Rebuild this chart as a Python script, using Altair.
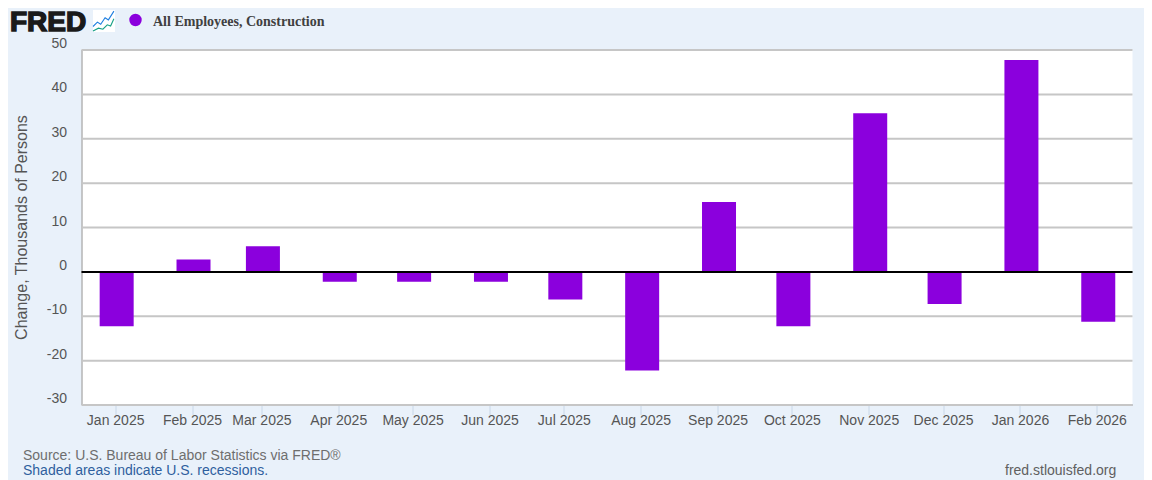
import altair as alt
import pandas as pd

months = ["2025-01-01","2025-02-01","2025-03-01","2025-04-01","2025-05-01","2025-06-01","2025-07-01",
          "2025-08-01","2025-09-01","2025-10-01","2025-11-01","2025-12-01","2026-01-01","2026-02-01"]
values = [-12, 3, 6, -2, -2, -2, -6, -22, 16, -12, 36, -7, 48, -11]
y_ticks = [-30, -20, -10, 0, 10, 20, 30, 40, 50]

BG = "#e9f1fa"
GREY = "#555555"
PURPLE = "#8b00dd"
LABEL_FONT = "Liberation Sans"

df = pd.DataFrame({"date": months, "value": values})
base = alt.Chart(df)

x_axis = alt.Axis(
    title=None, values=months, format="%b %Y", grid=False, domain=True, domainColor="#c4c8d0", domainWidth=2,
    ticks=True, tickColor="#c8d7e8", tickSize=10, tickWidth=1, labelPadding=-1,
    labelFont=LABEL_FONT, labelFontSize=14, labelColor=GREY, labelOverlap=False, labelFlush=False,
)
y_axis = alt.Axis(
    title="Change, Thousands of Persons", values=y_ticks, grid=False,
    domain=True, domainColor="#909090", domainWidth=1, ticks=False, labelPadding=15, labelOffset=-6,
    labelExpr="'' + datum.value",
    labelFont=LABEL_FONT, labelFontSize=14, labelColor=GREY,
    titleFont=LABEL_FONT, titleFontSize=16, titleFontWeight="normal", titleColor=GREY, titlePadding=17,
)
x_enc = alt.X("date:T", axis=x_axis, scale=alt.Scale(type="utc", domain=["2024-12-18T10:00:00Z", "2026-02-15T10:00:00Z"], padding=0))
y_enc = alt.Y("value:Q", axis=y_axis, scale=alt.Scale(domain=[-30, 50], nice=False))

grid = alt.Chart(pd.DataFrame({"v": y_ticks})).mark_rule(color="#c6c6c6", strokeWidth=2, yOffset=0.5).encode(y=alt.Y("v:Q"))
bars = base.mark_bar(size=34, color=PURPLE, xOffset=1.5, yOffset=1.5, clip=False).encode(x=x_enc, y=y_enc, y2=alt.datum(0))
zero = alt.Chart(pd.DataFrame({"v": [0]})).mark_rule(color="#000000", strokeWidth=2, yOffset=0.5).encode(y=alt.Y("v:Q"))


def label(text, px, py, **kw):
    return alt.Chart(pd.DataFrame({"t": [text]})).mark_text(align="left", baseline="middle", **kw).encode(
        x=alt.value(px - 81.5), y=alt.value(py - 49.5), text="t:N"
    )


def symbol(px, py, size, **kw):
    return alt.Chart(pd.DataFrame({"t": [0]})).mark_point(**kw).encode(
        x=alt.value(px - 81.5), y=alt.value(py - 49.5), size=alt.value(size)
    )


logo = label("FRED", 10, 22.5, font="Liberation Sans", fontSize=28, fontWeight="bold", color="#1a1a1a", stroke="#1a1a1a", strokeWidth=1.5)
icon_bg = symbol(104, 21, 484, shape="square", filled=True, color="#ffffff", opacity=1)
icon_a = symbol(104, 21, 484, shape="M-1,0.5L-0.6,0.1L-0.3,0.3L0.1,-0.3L0.4,-0.1L0.9,-0.9", filled=False, color="#1f7fe0", strokeWidth=1.1, opacity=1)
icon_b = symbol(104, 21, 484, shape="M-1,0.9L-0.5,0.65L-0.1,0.75L0.3,0.35L0.6,0.45L0.9,-0.2", filled=False, color="#16a085", strokeWidth=1.1, opacity=1)
dot = symbol(135.5, 20, 154, shape="circle", filled=True, color=PURPLE, opacity=1)
legend_text = label("All Employees, Construction", 153, 22, font="Liberation Serif", fontSize=14, fontWeight="bold", color="#404040")
source = label("Source: U.S. Bureau of Labor Statistics via FRED®", 23, 456, font=LABEL_FONT, fontSize=14, color="#6e6e6e")
shaded = label("Shaded areas indicate U.S. recessions.", 23, 471, font=LABEL_FONT, fontSize=14, color="#2f5f9e")
site = label("fred.stlouisfed.org", 1005, 471, font=LABEL_FONT, fontSize=14, color="#606060")

chart = alt.layer(
    grid, bars, zero, logo, icon_bg, icon_a, icon_b, dot, legend_text, source, shaded, site
).properties(
    width=1051, height=355, background=BG,
    padding={"left": 73.5, "top": 41.5, "right": 11.5, "bottom": 75.5},
    autosize=alt.AutoSizeParams(type="none"),
).configure_view(fill="#ffffff", stroke=None)

chart.save("out.html", embed_options={"renderer": "svg", "actions": False})
